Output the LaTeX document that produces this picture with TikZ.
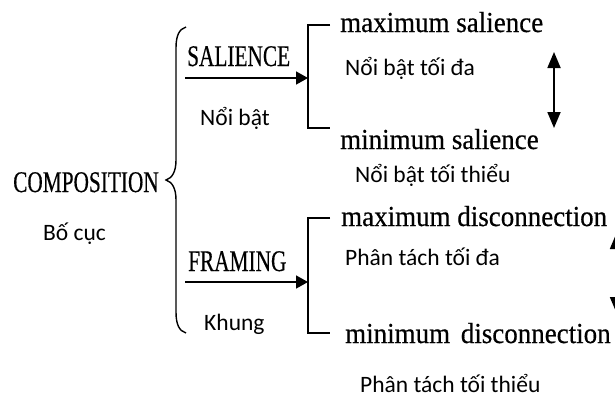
\documentclass[tikz,border=0pt]{standalone}
\usepackage{fontspec}
\setmainfont{Liberation Serif}
\newfontfamily\capsfont[FakeStretch=0.71,FakeBold=0.4]{Liberation Serif}
\newfontfamily\termfont[FakeStretch=0.93,FakeBold=0.5]{Liberation Serif}
\newfontfamily\vnfont{Carlito}
\usetikzlibrary{arrows.meta}

\tikzset{
  caps/.style={anchor=base west, inner sep=0pt, font=\capsfont\fontsize{30}{36}\selectfont},
  term/.style={anchor=base west, inner sep=0pt, font=\termfont\fontsize{29}{34}\selectfont},
  gloss/.style={anchor=base west, inner sep=0pt, font=\vnfont\fontsize{23.5}{28}\selectfont},
  link/.style={line width=1.6pt, -{Triangle[length=12pt,width=13pt]}},
  bracket/.style={line width=1.5pt},
  twoway/.style={line width=1.8pt, {Triangle[length=16pt,width=13pt]}-{Triangle[length=16pt,width=13pt]}},
  brace/.style={line width=1.4pt}
}

\begin{document}
\begin{tikzpicture}[x=1pt, y=-1pt]
\path[use as bounding box, clip] (0,0) rectangle (615,400);

% root and its brace
\node[caps] (comp) at (13,192) {COMPOSITION};
\node[gloss] (compvn) at (43,240) {Bố cục};
\draw[brace] (186,27) .. controls (179,29) and (176,36) .. (176,48) -- (176,160)
  .. controls (176,172) and (172,178) .. (166,180)
  .. controls (172,182) and (176,188) .. (176,200) -- (176,312)
  .. controls (176,324) and (179,331) .. (186,333);

% salience branch
\node[caps] (sal) at (187,66) {SALIENCE};
\node[gloss] (salvn) at (200,125) {Nổi bật};
\coordinate (salA) at (185,78);
\coordinate (salB) at (308,78);
\coordinate (salTop) at (308,25);
\coordinate (salBot) at (308,128);
\coordinate (salTopE) at (330,25);
\coordinate (salBotE) at (330,128);
\draw[bracket] (salTopE) -- (salTop) -- (salBot) -- (salBotE);
\draw[link] (salA) -- (salB);

\node[term] (maxsal) at (340,32) {maximum salience};
\node[gloss] (maxsalvn) at (345,75) {Nổi bật tối đa};
\node[term] (minsal) at (340,149) {minimum salience};
\node[gloss] (minsalvn) at (355,182) {Nổi bật tối thiểu};
\coordinate (salUp) at (554,52);
\coordinate (salDown) at (554,128);
\draw[twoway] (salUp) -- (salDown);

% framing branch
\node[caps] (fram) at (188,271) {FRAMING};
\node[gloss] (framvn) at (204,330) {Khung};
\coordinate (frA) at (185,282);
\coordinate (frB) at (308,282);
\coordinate (frTop) at (308,218);
\coordinate (frBot) at (308,333);
\coordinate (frTopE) at (330,218);
\coordinate (frBotE) at (330,333);
\draw[bracket] (frTopE) -- (frTop) -- (frBot) -- (frBotE);
\draw[link] (frA) -- (frB);

\node[term] (maxdis) at (341,226) {maximum disconnection};
\node[gloss] (maxdisvn) at (345,265) {Phân tách tối đa};
\node[term] (mindis) at (345,343) {minimum\hspace{4pt} disconnection};
\node[gloss] (mindisvn) at (360,392) {Phân tách tối thiểu};
\coordinate (frUp) at (616.5,233);
\coordinate (frDown) at (616.5,313);
\draw[twoway] (frUp) -- (frDown);
\end{tikzpicture}
\end{document}
